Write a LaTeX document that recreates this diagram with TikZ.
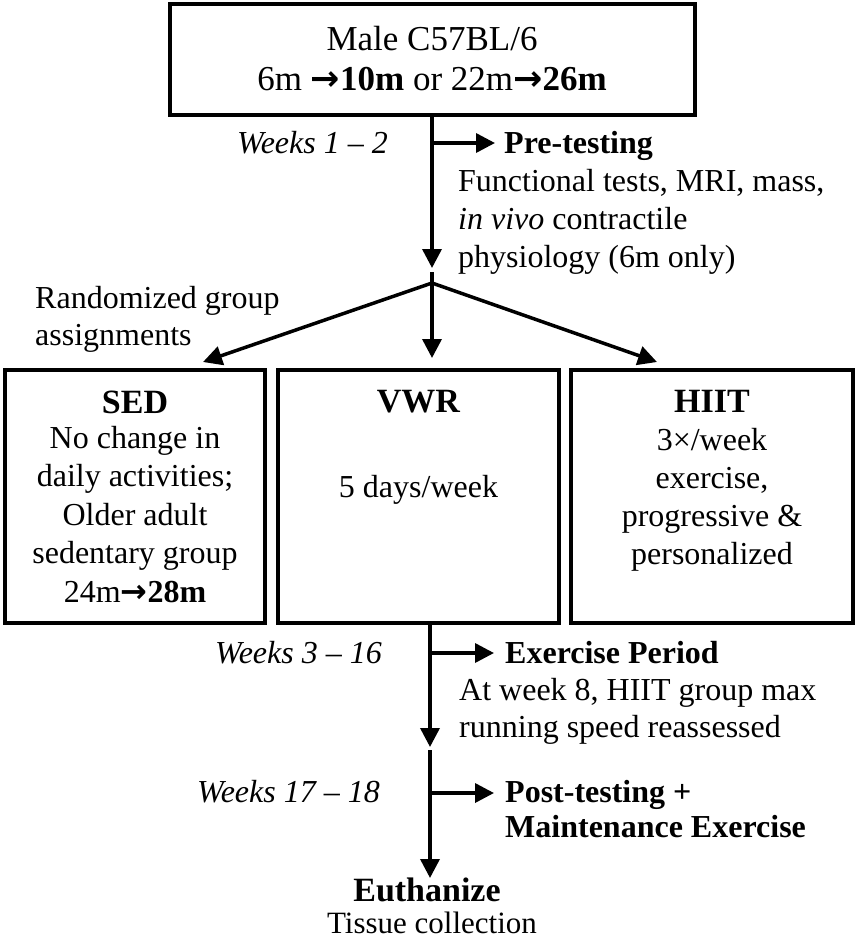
\documentclass[tikz,border=0pt]{standalone}
\usepackage{fontspec}
\setmainfont{Liberation Serif}
\newfontfamily\arrowfont{DejaVu Sans}
\usetikzlibrary{arrows.meta}
\newcommand{\rar}{{\arrowfont\bfseries →}}
\tikzset{
  boxed/.style={draw, line width=4pt, inner sep=0pt},
  conn/.style={line width=3.5pt, -{Triangle[length=19pt,width=19pt]}},
  plainline/.style={line width=3.5pt},
  body/.style={font=\fontsize{32}{38}\selectfont, inner sep=0pt},
  titlef/.style={font=\fontsize{34}{40}\selectfont\bfseries, inner sep=0pt},
  heads/.style={font=\fontsize{32}{35}\selectfont\bfseries, inner sep=0pt},
  weeks/.style={font=\fontsize{32}{38}\selectfont\itshape, inner sep=0pt, anchor=base east},
}
\begin{document}
\begin{tikzpicture}[x=1pt,y=-1pt]
\useasboundingbox (0,0) rectangle (858,938);
% boxes
\node[boxed, minimum width=525pt, minimum height=111pt] (top) at (432,59.5) {};
\node[boxed, minimum width=260pt, minimum height=253pt] (sed) at (135,496.5) {};
\node[boxed, minimum width=281pt, minimum height=253pt] (vwr) at (418.5,496.5) {};
\node[boxed, minimum width=282pt, minimum height=253pt] (hiit) at (712,496.5) {};
% top text (base anchor = last line)
\node[inner sep=0pt, anchor=base, font=\fontsize{35}{40}\selectfont, align=center] (toptxt) at (432,90)
  {Male C57BL/6\\6m \rar\textbf{10m} or 22m\rar\textbf{26m}};
% coordinates
\coordinate (a1) at (432,268);
\coordinate (b1) at (432,143);
\coordinate (b1e) at (495,143);
\coordinate (f0) at (432,272);
\coordinate (fork) at (432,283);
\coordinate (tsed) at (203,362);
\coordinate (tvwr) at (432,358);
\coordinate (thiit) at (657,362);
\coordinate (l0) at (430,625);
\coordinate (l1) at (430,747);
\coordinate (l2) at (430,750);
\coordinate (l3) at (430,878);
\coordinate (c1) at (430,653);
\coordinate (c1e) at (494,653);
\coordinate (c2) at (430,793);
\coordinate (c2e) at (494,793);
% connectors
\draw[conn] (top.south) -- (a1);
\draw[conn] (b1) -- (b1e);
\draw[plainline] (f0) -- (fork);
\draw[conn] (fork) -- (tsed);
\draw[conn] (fork) -- (tvwr);
\draw[conn] (fork) -- (thiit);
\draw[conn] (l0) -- (l1);
\draw[conn] (c1) -- (c1e);
\draw[conn] (l2) -- (l3);
\draw[conn] (c2) -- (c2e);
% side texts
\node[weeks] (w1) at (388,153) {Weeks 1 – 2};
\node[heads, anchor=base west] (pre) at (504,153) {Pre-testing};
\node[body, anchor=base west, align=left] (pretxt) at (458,267)
  {Functional tests, MRI, mass,\\\textit{in vivo} contractile\\physiology (6m only)};
\node[body, anchor=base west, align=left] (rand) at (35,345) {Randomized group\\[-1pt]assignments};
% group boxes text
\node[titlef, anchor=base] (sedt) at (135,413) {SED};
\node[body, anchor=base, align=center] (sedb) at (135,602)
  {No change in\\[0.5pt]daily activities;\\[0.5pt]Older adult\\[0.5pt]sedentary group\\[0.5pt]24m\rar\textbf{28m}};
\node[titlef, anchor=base] (vwrt) at (418.5,412) {VWR};
\node[body, anchor=base] (vwrb) at (418.5,497) {5 days/week};
\node[titlef, anchor=base] (hiitt) at (712,412) {HIIT};
\node[body, anchor=base, align=center] (hiitb) at (712,564)
  {3×/week\\exercise,\\progressive \&\\personalized};
% lower
\node[weeks] (w2) at (382,663) {Weeks 3 – 16};
\node[heads, anchor=base west] (ex) at (505,663) {Exercise Period};
\node[body, anchor=base west, align=left] (extxt) at (459,737)
  {At week 8, HIIT group max\\[-1pt]running speed reassessed};
\node[weeks] (w3) at (380,802) {Weeks 17 – 18};
\node[heads, anchor=base west, align=left] (post) at (505,837)
  {Post-testing +\\Maintenance Exercise};
\node[titlef, anchor=base] (euth) at (427,901) {Euthanize};
\node[inner sep=0pt, font=\fontsize{31}{36}\selectfont, anchor=base] (tissue) at (432,933) {Tissue collection};
\end{tikzpicture}
\end{document}
